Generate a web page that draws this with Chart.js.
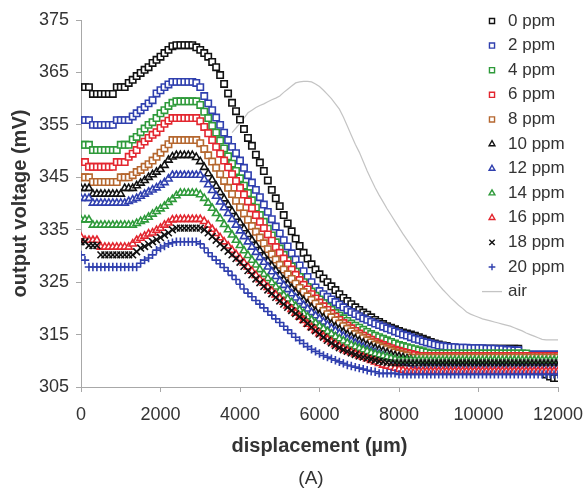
<!DOCTYPE html>
<html>
<head>
<meta charset="utf-8">
<script src="https://cdn.jsdelivr.net/npm/chart.js@4"></script>
<style>
  html, body { margin: 0; padding: 0; background: #fff; }
  #wrap { width: 586px; height: 491px; }
</style>
</head>
<body>
<div id="wrap"><canvas id="voltChart" width="586" height="491"></canvas></div>
<script>
// displacement in um, one reading every 100 um
const displacement = [
  0,100,200,300,400,500,600,700,800,900,
  1000,1100,1200,1300,1400,1500,1600,1700,1800,1900,
  2000,2100,2200,2300,2400,2500,2600,2700,2800,2900,
  3000,3100,3200,3300,3400,3500,3600,3700,3800,3900,
  4000,4100,4200,4300,4400,4500,4600,4700,4800,4900,
  5000,5100,5200,5300,5400,5500,5600,5700,5800,5900,
  6000,6100,6200,6300,6400,6500,6600,6700,6800,6900,
  7000,7100,7200,7300,7400,7500,7600,7700,7800,7900,
  8000,8100,8200,8300,8400,8500,8600,8700,8800,8900,
  9000,9100,9200,9300,9400,9500,9600,9700,9800,9900,
  10000,10100,10200,10300,10400,10500,10600,10700,10800,10900,
  11000,11100,11200,11300,11400,11500,11600,11700,11800,11900,
  12000
];

// output voltage (mV) per concentration
const ppm0 = [
  362.2,362.2,362.2,360.9,360.9,360.9,360.9,360.9,360.9,362.2,
  362.2,362.2,363.0,363.6,364.3,364.9,365.5,366.0,366.8,367.4,
  368.0,368.7,369.3,370.0,370.2,370.2,370.2,370.2,370.2,369.8,
  369.3,368.7,368.0,367.0,366.0,364.5,362.8,361.0,359.2,357.6,
  356.0,354.2,352.5,351.0,349.3,347.8,346.2,344.4,342.6,341.0,
  339.5,337.8,336.2,334.7,333.3,331.9,330.6,329.5,328.4,327.4,
  326.5,325.7,325.0,324.2,323.5,322.7,322.0,321.4,320.8,320.2,
  319.7,319.2,318.8,318.3,317.8,317.4,317.0,316.6,316.3,316.0,
  315.7,315.4,315.2,315.0,314.8,314.5,314.2,313.9,313.6,313.3,
  313.1,312.9,312.8,312.6,312.5,312.4,312.3,312.3,312.3,312.3,
  312.3,312.3,312.3,312.3,312.3,312.3,312.3,312.3,312.3,312.3,
  312.3,311.2,310.5,310.0,309.5,308.8,308.0,307.4,307.0,306.7,
  306.7
];
const ppm2 = [
  355.9,355.9,355.9,355.0,355.0,355.0,355.0,355.0,355.0,355.9,
  355.9,355.9,355.9,356.6,357.2,357.8,358.4,359.1,359.7,361.0,
  361.6,362.2,362.7,363.2,363.2,363.2,363.2,363.2,363.2,363.0,
  362.2,360.5,359.1,357.8,356.4,355.0,353.5,352.1,350.8,349.6,
  348.2,346.8,345.4,344.0,342.6,341.2,339.8,338.4,337.0,335.6,
  334.3,333.0,331.8,330.5,329.3,328.2,327.1,326.0,325.0,324.0,
  323.3,322.7,322.2,321.7,321.2,320.7,320.2,319.7,319.3,318.9,
  318.5,318.1,317.8,317.4,317.1,316.8,316.5,316.2,315.9,315.6,
  315.3,315.0,314.8,314.5,314.2,314.0,313.7,313.5,313.3,313.1,
  312.9,312.8,312.7,312.6,312.6,312.5,312.5,312.5,312.4,312.4,
  312.4,312.4,312.3,312.3,312.3,312.2,312.2,312.1,312.1,312.0,
  312.0,311.2,311.2,311.2,311.2,311.2,311.2,311.2,311.2,311.2,
  311.2
];
const ppm4 = [
  351.2,351.2,351.2,350.2,350.2,350.2,350.2,350.2,350.2,350.2,
  351.2,351.2,351.2,352.2,352.7,353.6,354.3,355.0,355.5,356.3,
  357.2,357.8,358.6,359.2,359.5,359.5,359.5,359.5,359.5,359.5,
  358.8,357.5,356.3,354.8,353.5,352.0,350.5,349.0,347.6,346.2,
  344.8,343.4,342.0,340.6,339.2,337.8,336.5,335.2,333.9,332.6,
  331.4,330.2,329.1,328.0,327.0,326.0,325.0,324.1,323.2,322.4,
  321.7,321.0,320.3,319.7,319.1,318.6,318.1,317.6,317.1,316.7,
  316.3,315.9,315.5,315.1,314.8,314.5,314.2,313.9,313.6,313.3,
  313.0,312.8,312.6,312.4,312.2,312.0,311.8,311.6,311.4,311.4,
  311.4,311.4,311.4,311.4,311.4,311.4,311.4,311.4,311.4,311.4,
  311.4,311.4,311.4,311.4,311.4,311.4,311.4,311.4,311.4,311.4,
  311.4,311.4,311.4,310.6,310.6,310.6,310.6,310.6,310.6,310.6,
  310.6
];
const ppm6 = [
  347.9,347.9,347.0,347.0,347.0,347.0,347.0,347.0,347.0,347.9,
  347.9,347.9,348.9,349.5,350.2,351.2,351.8,352.5,353.1,353.6,
  354.4,355.2,355.8,356.3,356.3,356.3,356.3,356.3,356.3,356.3,
  355.7,354.6,353.4,352.1,350.8,349.5,348.2,346.9,345.6,344.3,
  343.0,341.7,340.4,339.1,337.8,336.5,335.3,334.1,332.9,331.7,
  330.6,329.5,328.4,327.4,326.4,325.4,324.5,323.6,322.7,321.9,
  321.1,320.4,319.7,319.0,318.4,317.8,317.2,316.7,316.2,315.7,
  315.2,314.8,314.4,314.0,313.6,313.3,313.0,312.7,312.4,312.1,
  311.9,311.7,311.5,311.3,311.1,310.9,310.9,310.9,310.9,310.9,
  310.9,310.9,310.9,310.9,310.9,310.9,310.9,310.9,310.9,310.9,
  310.9,310.9,310.9,310.9,310.9,310.9,310.9,310.9,310.9,310.9,
  310.9,310.9,310.9,310.9,310.9,310.9,310.9,310.9,310.9,310.9,
  310.9
];
const ppm8 = [
  345.0,345.0,345.0,344.1,344.1,344.1,344.1,344.1,344.1,344.1,
  345.0,345.0,345.0,345.4,346.0,346.4,347.0,347.5,348.2,348.9,
  349.7,350.5,351.3,352.1,352.1,352.1,352.1,352.1,352.1,352.1,
  351.5,350.4,349.2,348.0,346.8,345.6,344.3,343.0,341.8,340.5,
  339.3,338.1,336.9,335.7,334.6,333.5,332.4,331.3,330.3,329.3,
  328.3,327.4,326.5,325.6,324.7,323.9,323.1,322.3,321.6,320.9,
  320.2,319.5,318.9,318.3,317.7,317.1,316.6,316.1,315.6,315.1,
  314.7,314.3,313.9,313.5,313.1,312.8,312.5,312.2,311.9,311.6,
  311.4,311.2,311.0,310.6,310.6,310.6,310.6,310.6,310.6,310.6,
  310.6,310.6,310.6,310.6,310.6,310.6,310.6,310.6,310.6,310.6,
  310.6,310.6,310.6,310.6,310.6,310.6,310.6,310.6,310.6,310.6,
  310.6,310.6,310.6,310.6,310.6,310.6,310.6,310.6,310.6,310.6,
  310.6
];
const ppm10 = [
  342.9,342.9,342.9,341.8,341.8,341.8,341.8,341.8,341.8,341.8,
  341.8,342.9,342.9,342.9,343.4,343.9,344.4,345.0,345.5,346.0,
  346.5,347.3,348.3,348.9,349.2,349.2,349.2,349.2,349.2,348.8,
  348.0,346.9,345.7,344.5,343.3,342.1,340.9,339.7,338.5,337.4,
  336.3,335.2,334.1,333.0,332.0,331.0,330.0,329.0,328.1,327.2,
  326.3,325.4,324.6,323.8,323.0,322.2,321.5,320.8,320.1,319.4,
  318.8,318.2,317.6,317.0,316.5,316.0,315.5,315.0,314.6,314.2,
  313.8,313.4,313.0,312.7,312.4,312.1,311.8,311.5,311.2,311.0,
  310.8,310.6,310.4,310.2,310.0,309.8,309.8,309.8,309.8,309.8,
  309.8,309.8,309.8,309.8,309.8,309.8,309.8,309.8,309.8,309.8,
  309.8,309.8,309.8,309.8,309.8,309.8,309.8,309.8,309.8,309.8,
  309.8,309.8,309.8,309.8,309.8,309.8,309.8,309.8,309.8,309.8,
  309.8
];
const ppm12 = [
  341.0,341.0,341.0,340.1,340.1,340.1,340.1,340.1,340.1,340.1,
  340.1,340.1,340.4,340.7,341.0,341.4,341.8,342.2,342.6,343.0,
  343.5,344.0,344.7,345.4,345.4,345.4,345.4,345.4,345.4,345.4,
  345.4,344.6,343.6,342.5,341.4,340.3,339.2,338.1,337.0,335.9,
  334.8,333.7,332.7,331.7,330.7,329.7,328.8,327.9,327.0,326.1,
  325.2,324.4,323.6,322.8,322.0,321.3,320.6,319.9,319.2,318.6,
  318.0,317.4,316.8,316.2,315.7,315.2,314.7,314.2,313.8,313.4,
  313.0,312.6,312.2,311.9,311.6,311.3,311.0,310.7,310.4,310.2,
  310.0,309.8,309.6,309.4,309.2,309.0,308.8,308.8,308.8,308.8,
  308.8,308.8,308.8,308.8,308.8,308.8,308.8,308.8,308.8,308.8,
  308.8,308.8,308.8,308.8,308.8,308.8,308.8,308.8,308.8,308.8,
  308.8,308.8,308.8,308.8,308.8,308.8,308.8,308.8,308.8,308.8,
  308.8
];
const ppm14 = [
  336.9,336.9,336.9,335.9,335.9,335.9,335.9,335.9,335.9,335.9,
  335.9,335.9,335.9,335.9,336.2,336.6,336.9,337.4,338.0,338.5,
  339.0,339.5,340.2,340.8,341.5,342.0,342.0,342.0,342.0,342.0,
  341.7,341.0,340.1,339.1,338.1,337.1,336.0,335.0,334.0,333.0,
  332.0,331.0,330.1,329.2,328.3,327.4,326.5,325.7,324.9,324.1,
  323.3,322.5,321.8,321.1,320.4,319.7,319.0,318.4,317.8,317.2,
  316.6,316.1,315.6,315.1,314.6,314.2,313.8,313.4,313.0,312.7,
  312.4,312.1,311.8,311.5,311.3,311.1,310.9,310.7,310.5,310.3,
  310.1,310.1,310.1,310.1,310.1,310.1,310.1,310.1,310.1,310.1,
  310.1,310.1,310.1,310.1,310.1,310.1,310.1,310.1,310.1,310.1,
  310.1,310.1,310.1,310.1,310.1,310.1,310.1,310.1,310.1,310.1,
  310.1,310.1,310.1,310.1,310.1,310.1,310.1,310.1,310.1,310.1,
  310.1
];
const ppm16 = [
  333.6,333.0,333.0,333.0,333.0,331.7,331.7,331.7,331.7,331.7,
  331.7,331.7,331.7,332.3,333.0,333.4,333.8,334.2,334.4,334.9,
  335.3,335.9,336.3,336.9,337.0,337.0,337.0,337.0,337.0,337.0,
  337.0,336.6,335.9,335.1,334.3,333.5,332.7,331.9,331.1,330.3,
  329.5,328.7,327.9,327.1,326.3,325.5,324.8,324.0,323.3,322.6,
  321.9,321.2,320.5,319.8,319.1,318.4,317.7,317.0,316.4,315.8,
  315.2,314.6,314.1,313.6,313.1,312.7,312.3,311.9,311.6,311.3,
  311.0,310.7,310.4,310.1,309.8,309.5,309.2,309.0,308.8,308.6,
  308.4,308.2,308.0,308.0,308.0,308.0,308.0,308.0,308.0,308.0,
  308.0,308.0,308.0,308.0,308.0,308.0,308.0,308.0,308.0,308.0,
  308.0,308.0,308.0,308.0,308.0,308.0,308.0,308.0,308.0,308.0,
  308.0,308.0,308.0,308.0,308.0,308.0,308.0,308.0,308.0,308.0,
  308.0
];
const ppm18 = [
  332.7,332.7,332.0,332.0,332.0,330.2,330.2,330.2,330.2,330.2,
  330.2,330.2,330.2,330.2,330.8,331.5,331.8,332.2,332.7,333.1,
  333.5,334.0,334.4,335.0,335.3,335.3,335.3,335.3,335.3,335.3,
  335.3,335.0,334.4,333.7,333.0,332.3,331.6,330.9,330.2,329.5,
  328.8,328.0,327.2,326.4,325.6,324.9,324.2,323.5,322.8,322.1,
  321.4,320.8,320.2,319.6,319.0,318.4,317.8,317.1,316.4,315.7,
  315.1,314.5,313.9,313.4,312.9,312.5,312.1,311.8,311.5,311.2,
  310.9,310.7,310.5,310.3,310.1,309.9,309.8,309.7,309.6,309.6,
  309.6,309.6,309.6,309.6,309.6,309.6,309.6,309.6,309.6,309.6,
  309.6,309.6,309.6,309.6,309.6,309.6,309.6,309.6,309.6,309.6,
  309.6,309.6,309.6,309.6,309.6,309.6,309.6,309.6,309.6,309.6,
  309.6,309.6,309.6,309.6,309.6,309.6,309.6,309.6,309.6,309.6,
  309.6
];
const ppm20 = [
  330.2,329.2,327.9,327.9,327.9,327.9,327.9,327.9,327.9,327.9,
  327.9,327.9,327.9,327.9,327.9,328.6,329.2,329.6,330.2,331.1,
  331.5,331.9,332.3,332.5,332.7,332.7,332.7,332.7,332.7,332.7,
  332.3,331.5,330.6,329.9,329.2,328.5,327.8,327.1,326.3,325.5,
  324.6,323.7,322.9,322.2,321.5,320.8,320.1,319.4,318.7,318.0,
  317.3,316.6,315.9,315.2,314.5,313.9,313.3,312.7,312.2,311.8,
  311.4,311.0,310.7,310.4,310.1,309.8,309.5,309.2,309.0,308.8,
  308.6,308.4,308.2,308.0,307.9,307.6,307.6,307.6,307.6,307.6,
  307.4,307.4,307.4,307.4,307.4,307.4,307.4,307.4,307.4,307.4,
  307.4,307.4,307.4,307.4,307.4,307.4,307.4,307.4,307.4,307.4,
  307.4,307.4,307.4,307.4,307.4,307.4,307.4,307.4,307.4,307.4,
  307.4,307.4,307.4,307.4,307.4,307.4,307.4,307.4,307.4,307.4,
  307.4
];
// air reference, only visible from ~3800 um on
const air = [
  null,null,null,null,null,null,null,null,null,null,
  null,null,null,null,null,null,null,null,null,null,
  null,null,null,null,null,null,null,null,null,null,
  null,null,null,null,null,null,null,null,353.5,354.4,
  355.3,356.3,357.3,357.8,358.3,358.7,359.0,359.4,359.8,360.1,
  360.5,361.2,361.8,362.4,363.0,363.2,363.3,363.3,363.2,362.8,
  362.3,361.6,360.8,360.0,359.0,358.0,356.5,354.8,353.0,351.3,
  349.8,348.0,346.2,344.6,343.0,341.6,340.3,339.0,337.8,336.6,
  335.4,334.2,333.1,332.0,330.9,329.8,328.7,327.6,326.5,325.4,
  324.5,323.6,322.8,322.0,321.3,320.6,320.0,319.3,318.9,318.6,
  318.3,318.0,317.8,317.6,317.4,317.2,317.0,316.8,316.6,316.3,
  316.0,315.7,315.3,315.0,314.7,314.4,314.1,314.0,314.0,314.0,
  314.0
];

const seriesLabels = ['0 ppm', '2 ppm', '4 ppm', '6 ppm', '8 ppm', '10 ppm', '12 ppm', '14 ppm', '16 ppm', '18 ppm', '20 ppm'];
const seriesValues = [ppm0, ppm2, ppm4, ppm6, ppm8, ppm10, ppm12, ppm14, ppm16, ppm18, ppm20];
const yTicks = [305, 315, 325, 335, 345, 355, 365, 375];
const xTicks = [0, 2000, 4000, 6000, 8000, 10000, 12000];

const BLACK = '#111111', BLUE = '#2f3fae', GREEN = '#2e9a3a', RED = '#e3262f', BROWN = '#b5672f';
const seriesColors = [BLACK, BLUE, GREEN, RED, BROWN, BLACK, BLUE, GREEN, RED, BLACK, BLUE];
const seriesStyles = ['rect', 'rect', 'rect', 'rect', 'rect', 'triangle', 'triangle', 'triangle', 'triangle', 'crossRot', 'cross'];
const styleRadius = { rect: 4.5, triangle: 4.2, crossRot: 4.8, cross: 4.2 };

const FONT = '"Liberation Sans", Arial, Helvetica, sans-serif';

const datasets = seriesLabels.map((label, i) => ({
  label: label,
  data: displacement.map((x, j) => ({ x: x, y: seriesValues[i][j] })),
  showLine: false,
  pointStyle: seriesStyles[i],
  pointRadius: styleRadius[seriesStyles[i]],
  pointBorderWidth: 1.6,
  borderColor: seriesColors[i],
  backgroundColor: '#ffffff',
  order: 20 - i,
}));

datasets.push({
  label: 'air',
  data: displacement.map((x, j) => ({ x: x, y: air[j] })),
  showLine: true,
  borderColor: '#c4c4c4',
  borderWidth: 1.2,
  pointRadius: 0,
  fill: false,
  order: 100,
});

// legend sits inside the plot, top right, like the original
const sideLegend = {
  id: 'sideLegend',
  afterDraw(chart) {
    const ctx = chart.ctx;
    ctx.save();
    ctx.textBaseline = 'middle';
    ctx.textAlign = 'left';
    ctx.font = '17px ' + FONT;
    chart.data.datasets.forEach((ds, i) => {
      const y = 21 + i * 24.6;
      if (ds.showLine) {
        ctx.strokeStyle = ds.borderColor;
        ctx.lineWidth = 1.3;
        ctx.beginPath();
        ctx.moveTo(482, y);
        ctx.lineTo(502, y);
        ctx.stroke();
      } else {
        ctx.strokeStyle = ds.borderColor;
        ctx.fillStyle = '#ffffff';
        ctx.lineWidth = 1.4;
        Chart.helpers.drawPoint(ctx, {
          pointStyle: ds.pointStyle,
          radius: ds.pointRadius * 0.8,
          rotation: 0,
          borderWidth: 1.4,
        }, 492, y);
      }
      ctx.fillStyle = '#333333';
      ctx.fillText(ds.label, 508, y);
    });
    ctx.font = '19px ' + FONT;
    ctx.textAlign = 'center';
    ctx.fillStyle = '#333333';
    ctx.fillText('(A)', 311, 479);
    ctx.restore();
  }
};

new Chart(document.getElementById('voltChart').getContext('2d'), {
  type: 'scatter',
  data: { datasets: datasets },
  options: {
    responsive: false,
    animation: false,
    events: [],
    layout: { padding: { left: 0, right: 28, top: 20, bottom: 33 } },
    plugins: {
      legend: { display: false },
      tooltip: { enabled: false },
    },
    scales: {
      x: {
        type: 'linear',
        min: 0,
        max: 12000,
        afterBuildTicks: (scale) => { scale.ticks = xTicks.map(v => ({ value: v })); },
        afterFit: (scale) => { scale.height = 71; scale.paddingLeft = 0; scale.paddingRight = 0; },
        ticks: {
          font: { size: 18, family: FONT }, color: '#333333', padding: 12, maxRotation: 0,
          callback: (v) => String(v),
        },
        grid: { drawOnChartArea: false, drawTicks: true, tickLength: 5, color: '#a8a8a8' },
        border: { display: true, color: '#a8a8a8', width: 1 },
        title: {
          display: true,
          text: 'displacement (µm)',
          font: { size: 20, weight: 'bold', family: FONT },
          color: '#333333',
          padding: { top: 0, bottom: 0 },
        },
      },
      y: {
        min: 305,
        max: 375,
        afterBuildTicks: (scale) => { scale.ticks = yTicks.map(v => ({ value: v })); },
        afterFit: (scale) => { scale.width = 81; },
        ticks: { font: { size: 18, family: FONT }, color: '#333333', padding: 7, callback: (v) => String(v) },
        grid: { drawOnChartArea: false, drawTicks: true, tickLength: 5, color: '#a8a8a8' },
        border: { display: true, color: '#a8a8a8', width: 1 },
        title: {
          display: true,
          text: 'output voltage (mV)',
          font: { size: 20, weight: 'bold', family: FONT },
          color: '#333333',
          padding: { top: 8, bottom: 0 },
        },
      },
    },
  },
  plugins: [sideLegend],
});
</script>
</body>
</html>
